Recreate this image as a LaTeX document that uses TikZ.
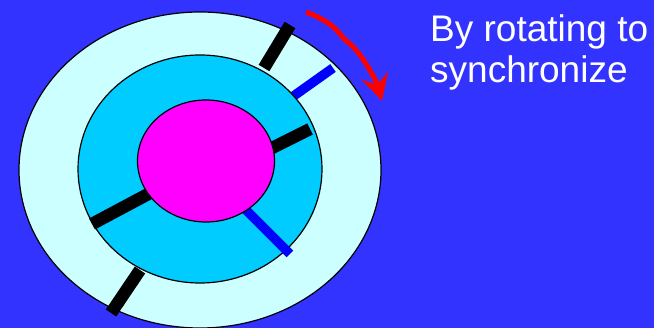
\documentclass[tikz,border=0pt]{standalone}
\usepackage{fontspec}
\setmainfont{Liberation Sans}
\usetikzlibrary{arrows.meta}
\definecolor{bgblue}{RGB}{51,51,255}
\definecolor{paleCyan}{RGB}{204,255,255}
\definecolor{midCyan}{RGB}{0,204,255}
\definecolor{hub}{RGB}{255,0,255}
\definecolor{pureBlue}{RGB}{0,0,255}
\definecolor{pureRed}{RGB}{255,0,0}
\tikzset{
  ring/.style={draw=black, line width=1.2pt},
  blackbar/.style={draw=black, line width=12.5pt},
  bluebar/.style={draw=pureBlue, line width=9.5pt},
  label/.style={text=white, font=\fontsize{37}{41}\selectfont, align=left, inner sep=0pt, anchor=base west},
}
\begin{document}
\begin{tikzpicture}[x=1pt,y=-1pt]
\useasboundingbox (0,0) rectangle (654,328);
\fill[bgblue] (0,0) rectangle (654,328);
% outer ring
\filldraw[ring, fill=paleCyan] (200,170) ellipse [x radius=181, y radius=158];
\draw[blackbar] (264,68) -- (290,25);
\draw[blackbar] (140,270) -- (111,313);
\draw[bluebar] (288,100) -- (333,68);
% middle ring
\filldraw[ring, fill=midCyan] (200,169) ellipse [x radius=122, y radius=114];
\draw[blackbar] (268,150) -- (310,129);
\draw[blackbar] (152,192) -- (92,224);
\draw[bluebar] (242,206) -- (290,254);
% hub
\filldraw[ring, fill=hub] (206,161) ellipse [x radius=68.5, y radius=61];
% rotation arrow
\draw[pureRed, line width=5pt, -{Stealth[length=26pt,width=27pt,inset=9pt]}]
  (306,12) .. controls (322,18) and (333,25) .. (340,34)
  .. controls (346,42) and (352,44) .. (360,55)
  .. controls (368,66) and (376,80) .. (382,101);
\node[label] (txt) at (430,83) {By rotating to\\synchronize};
\end{tikzpicture}
\end{document}
